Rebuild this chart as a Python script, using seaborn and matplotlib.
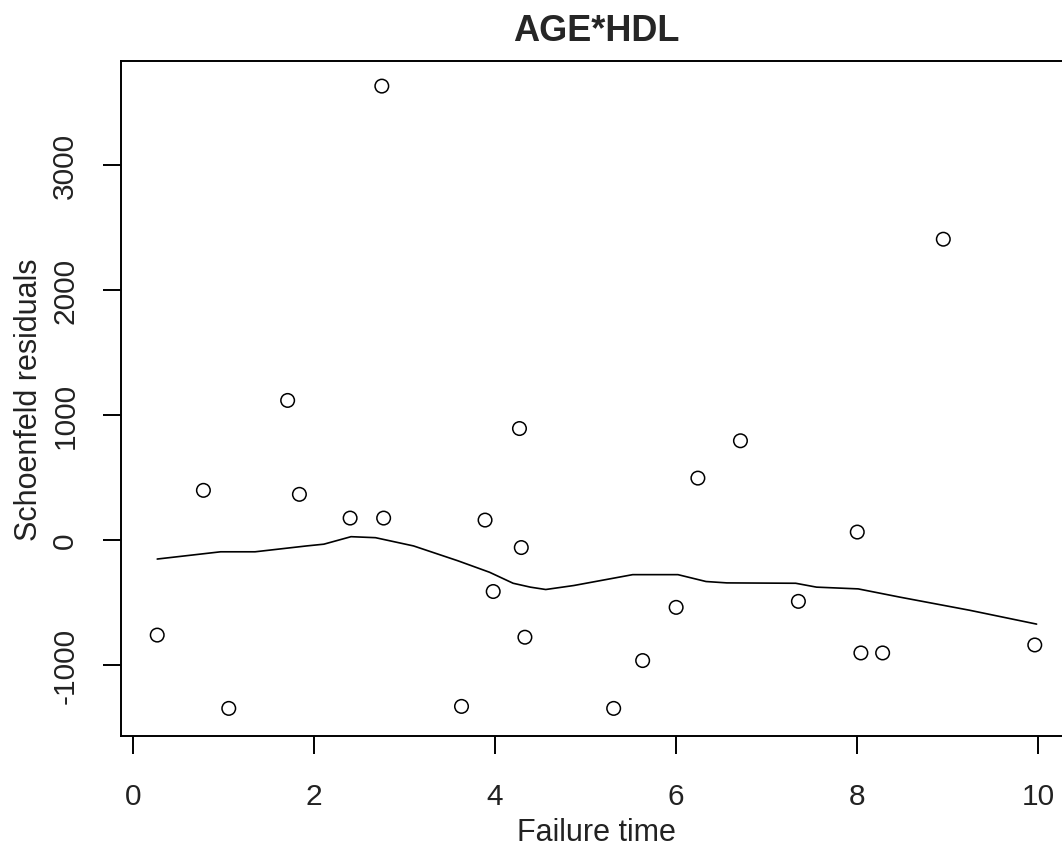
import numpy as np
import pandas as pd
import matplotlib
matplotlib.use("Agg")
import matplotlib.pyplot as plt
import seaborn as sns

# residual points
fail_time = [0.27, 0.78, 1.06, 1.71, 1.84, 2.40, 2.75, 2.77, 3.63, 3.89, 3.98,
             4.27, 4.29, 4.33, 5.31, 5.63, 6.00, 6.24, 6.71, 7.35, 8.00, 8.04,
             8.28, 8.95, 9.96]
residual = [-762, 397, -1349, 1117, 365, 175, 3634, 175, -1333, 159, -413,
            892, -61, -779, -1349, -966, -540, 495, 794, -492, 63, -905,
            -905, 2408, -841]

# smoothed trend line
smooth_x = [0.27, 0.97, 1.35, 1.92, 2.11, 2.41, 2.68, 3.10, 3.59, 3.94, 4.20,
            4.39, 4.56, 4.87, 5.52, 6.02, 6.33, 6.56, 7.32, 7.55, 8.01, 8.47,
            9.24, 9.98]
smooth_y = [-153, -95, -95, -48, -34, 26, 18, -48, -167, -259, -347,
            -378, -397, -365, -278, -278, -333, -344, -347, -378, -392, -458,
            -563, -674]

x_ticks = [0, 2, 4, 6, 8, 10]
y_ticks = [-1000, 0, 1000, 2000, 3000]

sns.set_style("white")
plt.rcParams['font.family'] = ['Liberation Sans', 'DejaVu Sans']

fig = plt.figure(figsize=(10.62, 8.54), dpi=100)
ax = fig.add_axes([121 / 1062, (854 - 737) / 854, 950 / 1062, (737 - 62) / 854])

pts = pd.DataFrame({"t": fail_time, "r": residual})
sns.scatterplot(data=pts, x="t", y="r", ax=ax, marker="o", s=95,
                facecolor="none", edgecolor="black", linewidth=1.1, zorder=3)
sns.lineplot(x=smooth_x, y=smooth_y, ax=ax, color="black", linewidth=1.2,
             sort=False, estimator=None)

ax.set_xlim(-0.13, 10.36)
ax.set_ylim(-1570, 3835)
ax.set_xticks(x_ticks)
ax.set_yticks(y_ticks)
ax.set_yticklabels([str(v) for v in y_ticks], rotation=90, va="center")

for s in ax.spines.values():
    s.set_color("black")
    s.set_linewidth(1.4)

ax.tick_params(axis="both", direction="out", length=13, width=1.4,
               color="black", labelsize=21.5, labelcolor="#222222")
ax.tick_params(axis="x", pad=20, bottom=True)
ax.tick_params(axis="y", pad=17, left=True)

ax.set_xlabel("Failure time", fontsize=22, color="#222222", labelpad=5)
ax.set_ylabel("Schoenfeld residuals", fontsize=22, color="#222222", labelpad=5)
ax.set_title("AGE*HDL", fontsize=26, fontweight="bold", pad=15)

fig.savefig("out.png", dpi=100)
